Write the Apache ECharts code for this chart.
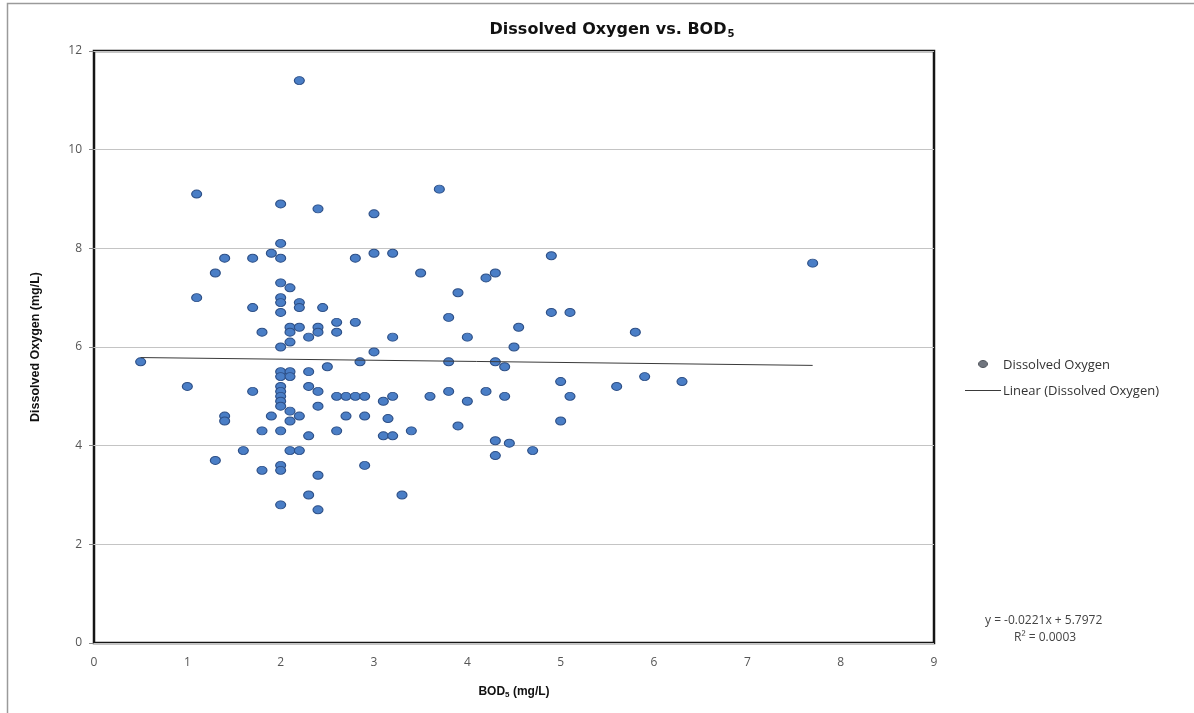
<!DOCTYPE html>
<html>
<head>
<meta charset="utf-8">
<title>Dissolved Oxygen vs. BOD5</title>
<script src="https://cdn.jsdelivr.net/npm/echarts@6/dist/echarts.min.js"></script>
<style>
  html, body { margin: 0; padding: 0; background: #ffffff; }
  #chart { width: 1194px; height: 713px; }
</style>
</head>
<body>
<div id="chart"></div>
<script>
// BOD5 (mg/L) of each sample
const bod = [
  2.2, 1.1, 2.0, 2.4, 3.7, 3.0, 2.0, 1.9, 2.0, 1.7,
  1.4, 2.8, 3.0, 3.2, 4.9, 7.7, 1.3, 3.5, 4.3, 4.2,
  2.0, 2.1, 3.9, 1.1, 2.0, 2.0, 2.2, 2.2, 2.45, 1.7,
  2.0, 4.9, 5.1, 3.8, 2.6, 2.8, 4.55, 2.1, 2.2, 2.4,
  1.8, 2.1, 2.4, 2.6, 5.8, 2.3, 3.2, 4.0, 2.1, 2.0,
  4.5, 3.0, 0.5, 2.85, 3.8, 4.3, 4.4, 2.5, 2.0, 2.1,
  2.0, 2.1, 2.3, 5.9, 5.0, 6.3, 1.0, 2.0, 2.3, 5.6,
  1.7, 2.0, 2.4, 3.8, 4.2, 2.0, 2.6, 2.7, 2.8, 2.9,
  3.2, 3.6, 4.4, 5.1, 2.0, 3.1, 4.0, 2.0, 2.4, 2.1,
  1.4, 1.9, 2.2, 2.7, 2.9, 1.4, 2.1, 3.15, 5.0, 3.9,
  1.8, 2.0, 2.6, 3.4, 2.3, 3.1, 3.2, 4.3, 4.45, 1.6,
  2.1, 2.2, 4.7, 4.3, 1.3, 2.0, 2.9, 1.8, 2.0, 2.4,
  2.3, 3.3, 2.0, 2.4
];

// Dissolved oxygen (mg/L) of the same samples
const dissolvedOxygen = [
  11.4, 9.1, 8.9, 8.8, 9.2, 8.7, 8.1, 7.9, 7.8, 7.8,
  7.8, 7.8, 7.9, 7.9, 7.85, 7.7, 7.5, 7.5, 7.5, 7.4,
  7.3, 7.2, 7.1, 7.0, 7.0, 6.9, 6.9, 6.8, 6.8, 6.8,
  6.7, 6.7, 6.7, 6.6, 6.5, 6.5, 6.4, 6.4, 6.4, 6.4,
  6.3, 6.3, 6.3, 6.3, 6.3, 6.2, 6.2, 6.2, 6.1, 6.0,
  6.0, 5.9, 5.7, 5.7, 5.7, 5.7, 5.6, 5.6, 5.5, 5.5,
  5.4, 5.4, 5.5, 5.4, 5.3, 5.3, 5.2, 5.2, 5.2, 5.2,
  5.1, 5.1, 5.1, 5.1, 5.1, 5.0, 5.0, 5.0, 5.0, 5.0,
  5.0, 5.0, 5.0, 5.0, 4.9, 4.9, 4.9, 4.8, 4.8, 4.7,
  4.6, 4.6, 4.6, 4.6, 4.6, 4.5, 4.5, 4.55, 4.5, 4.4,
  4.3, 4.3, 4.3, 4.3, 4.2, 4.2, 4.2, 4.1, 4.05, 3.9,
  3.9, 3.9, 3.9, 3.8, 3.7, 3.6, 3.6, 3.5, 3.5, 3.4,
  3.0, 3.0, 2.8, 2.7
];

// Linear trend reported for the data set
const trendSlope = -0.0221;
const trendIntercept = 5.7972;
const rSquared = '0.0003';

// Series names shown in the legend
const seriesName = 'Dissolved Oxygen';
const trendName = 'Linear (Dissolved Oxygen)';

const xTicks = { min: 0, max: 9, interval: 1 };
const yTicks = { min: 0, max: 12, interval: 2 };

const points = bod.map((x, i) => [x, dissolvedOxygen[i]]);
const xLo = Math.min(...bod);
const xHi = Math.max(...bod);
const trendPoints = [xLo, xHi].map(x => [x, trendSlope * x + trendIntercept]);

const sans = 'Liberation Sans, Arial, sans-serif';
const legendFont = 'Open Sans, Lato, sans-serif';

const chart = echarts.init(document.getElementById('chart'));
chart.setOption({
  backgroundColor: '#ffffff',
  animation: false,
  title: {
    text: '{t|Dissolved Oxygen vs. BOD}{s|5}',
    left: 607,
    top: 16,
    textAlign: 'center',
    textStyle: {
      rich: {
        t: { fontFamily: 'DejaVu Sans', fontWeight: 'bold', fontSize: 16, color: '#111111' },
        s: { fontFamily: 'DejaVu Sans', fontWeight: 'bold', fontSize: 10, color: '#111111', padding: [8, 0, 0, 1] }
      }
    }
  },
  grid: {
    left: 94, right: 260, top: 51, bottom: 70,
    show: true,
    borderColor: '#151515',
    borderWidth: 2.5,
    backgroundColor: 'transparent'
  },
  xAxis: {
    type: 'value',
    min: xTicks.min, max: xTicks.max, interval: xTicks.interval,
    name: '{b|BOD}{s|5}{b| (mg/L)}',
    nameLocation: 'middle',
    nameGap: 42,
    nameTextStyle: {
      rich: {
        b: { fontFamily: sans, fontWeight: 'bold', fontSize: 12, color: '#111111' },
        s: { fontFamily: sans, fontWeight: 'bold', fontSize: 8, color: '#111111', padding: [6, 0, 0, 0] }
      }
    },
    axisLine: { show: false },
    axisTick: { show: false },
    splitLine: { show: false },
    axisLabel: { margin: 14, fontFamily: legendFont, fontSize: 12, color: '#555555' }
  },
  yAxis: {
    type: 'value',
    min: yTicks.min, max: yTicks.max, interval: yTicks.interval,
    name: 'Dissolved Oxygen (mg/L)',
    nameLocation: 'middle',
    nameGap: 52,
    nameTextStyle: { fontFamily: sans, fontWeight: 'bold', fontSize: 12.5, color: '#111111' },
    axisLine: { show: false },
    axisTick: { show: true, length: 5, lineStyle: { color: '#888888' } },
    splitLine: { show: true, lineStyle: { color: '#c4c4c4', width: 1.2 } },
    axisLabel: { margin: 12, fontFamily: legendFont, fontSize: 12, color: '#555555' }
  },
  series: [
    {
      name: seriesName,
      type: 'scatter',
      data: points,
      symbol: 'circle',
      symbolSize: [10, 8],
      z: 3,
      itemStyle: {
        color: '#4a7ec6',
        borderColor: '#2d4f86',
        borderWidth: 1,
        opacity: 1
      }
    },
    {
      name: trendName,
      type: 'line',
      data: trendPoints,
      symbol: 'none',
      showSymbol: false,
      z: 4,
      lineStyle: { color: '#3a3a3a', width: 1 },
      itemStyle: { color: '#3a3a3a' }
    }
  ],
  graphic: [
    // outer chart frame
    {
      type: 'rect',
      silent: true,
      shape: { x: 7.5, y: 3.5, width: 1200, height: 720 },
      style: { fill: 'none', stroke: '#9a9a9a', lineWidth: 1.5 }
    },
    // legend: scatter marker + label
    {
      type: 'ellipse',
      silent: true,
      shape: { cx: 983, cy: 364, rx: 4.5, ry: 3.5 },
      style: { fill: '#70757e', stroke: '#50545b', lineWidth: 1 }
    },
    {
      type: 'text',
      left: 1003,
      top: 359,
      style: { text: seriesName, font: '13px ' + legendFont, fill: '#333333' }
    },
    // legend: trend line + label
    {
      type: 'line',
      silent: true,
      shape: { x1: 965, y1: 390.5, x2: 1001, y2: 390.5 },
      style: { stroke: '#3a3a3a', lineWidth: 1 }
    },
    {
      type: 'text',
      left: 1003,
      top: 385,
      style: { text: trendName, font: '13px ' + legendFont, fill: '#333333' }
    },
    // regression equation
    {
      type: 'text',
      left: 985,
      top: 615,
      style: {
        text: 'y = ' + trendSlope.toFixed(4) + 'x + ' + trendIntercept.toFixed(4),
        font: '12px ' + legendFont,
        fill: '#444444'
      }
    },
    {
      type: 'text',
      left: 1014,
      top: 632,
      style: {
        text: 'R² = ' + rSquared,
        font: '12px ' + legendFont,
        fill: '#444444'
      }
    }
  ]
});
</script>
</body>
</html>
